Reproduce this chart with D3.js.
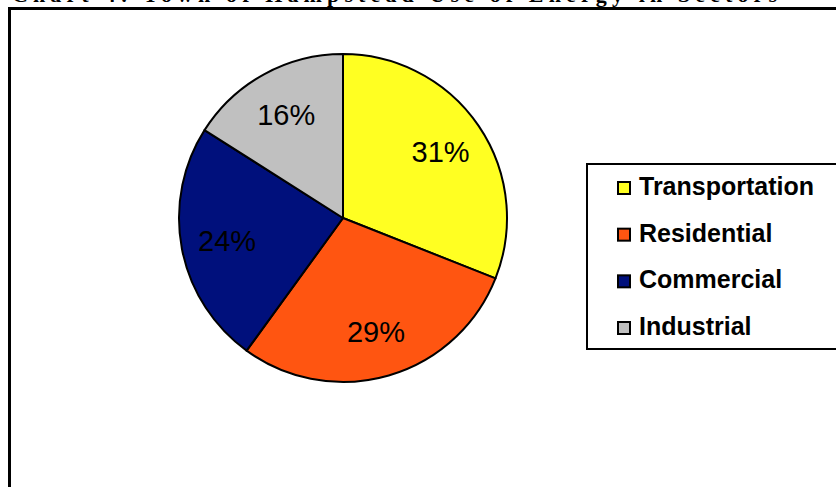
<!DOCTYPE html>
<html>
<head>
<meta charset="utf-8">
<script src="https://cdn.jsdelivr.net/npm/d3@7"></script>
<style>
  html, body { margin: 0; padding: 0; background: #fff; overflow: hidden; }
  svg { display: block; }
</style>
</head>
<body>
<div id="chart"></div>
<script>
// ---- data ----
const categories = ["Transportation", "Residential", "Commercial", "Industrial"];
const shares = [31, 29, 24, 16];
const labels = ["31%", "29%", "24%", "16%"];
const colors = ["#FFFF22", "#FF5511", "#00107C", "#C0C0C0"];
const titleText = "Chart 4: Town of Hampstead Use of Energy in Sectors";

const W = 836, H = 487;
const svg = d3.select("#chart").append("svg")
  .attr("width", W).attr("height", H);

// title (mostly cut off at top, as in the reference)
svg.append("text")
  .attr("x", 12).attr("y", 2)
  .attr("textLength", 765).attr("lengthAdjust", "spacing")
  .style("font-family", "'Liberation Serif', 'Times New Roman', serif")
  .style("font-weight", "bold").style("font-size", "22px")
  .text(titleText);

// outer frame
svg.append("rect")
  .attr("x", 9.5).attr("y", 8.5)
  .attr("width", 1000).attr("height", 1000)
  .attr("fill", "none").attr("stroke", "#000").attr("stroke-width", 3);

// pie
const cx = 343, cy = 218, R = 164;
const pie = d3.pie().sort(null).value(d => d)(shares);
const arc = d3.arc().innerRadius(0).outerRadius(R);
const labelArc = d3.arc().innerRadius(118).outerRadius(118);

const g = svg.append("g").attr("transform", `translate(${cx},${cy})`);
g.selectAll("path.slice").data(pie).join("path")
  .attr("class", "slice")
  .attr("d", arc)
  .attr("fill", (d, i) => colors[i])
  .attr("stroke", "#000").attr("stroke-width", 2)
  .attr("stroke-linejoin", "round");

g.selectAll("text.lbl").data(pie).join("text")
  .attr("class", "lbl")
  .attr("transform", d => `translate(${labelArc.centroid(d)})`)
  .attr("text-anchor", "middle")
  .attr("dy", "0.36em")
  .style("font-family", "'Liberation Sans', Arial, sans-serif")
  .style("font-size", "29px")
  .attr("fill", "#000")
  .text((d, i) => labels[i]);

// legend
const lg = svg.append("g");
lg.append("rect")
  .attr("x", 587).attr("y", 164)
  .attr("width", 400).attr("height", 185)
  .attr("fill", "#fff").attr("stroke", "#000").attr("stroke-width", 2);

const rowY = d3.scalePoint().domain(categories).range([195, 335]);
const items = lg.selectAll("g.item").data(categories).join("g")
  .attr("class", "item")
  .attr("transform", d => `translate(0,${rowY(d)})`);
items.append("rect")
  .attr("x", 618).attr("y", -13)
  .attr("width", 12).attr("height", 12)
  .attr("fill", (d, i) => colors[i])
  .attr("stroke", "#000").attr("stroke-width", 2);
items.append("text")
  .attr("x", 639).attr("y", 0)
  .style("font-family", "'Liberation Sans', Arial, sans-serif")
  .style("font-weight", "bold").style("font-size", "25px")
  .attr("fill", "#000")
  .text(d => d);
</script>
</body>
</html>
